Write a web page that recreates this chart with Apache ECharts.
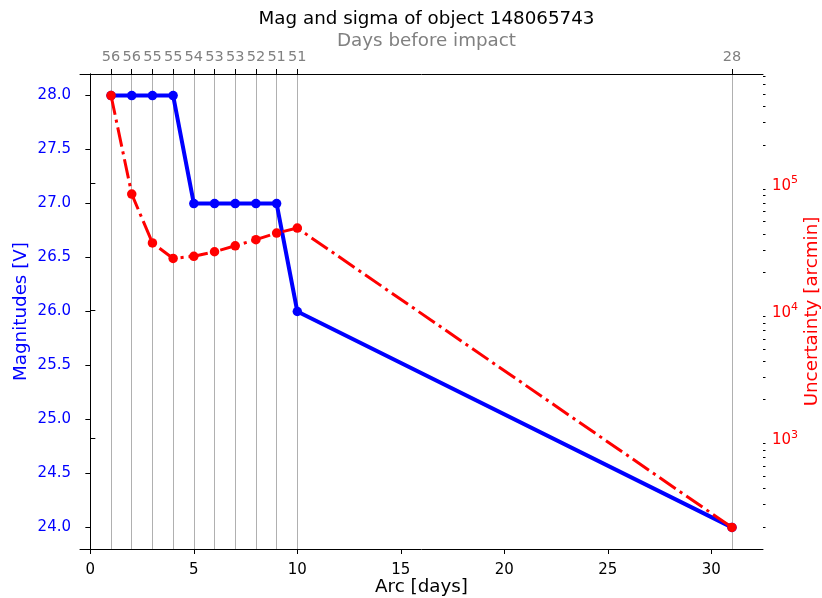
<!DOCTYPE html>
<html>
<head>
<meta charset="utf-8">
<script src="https://cdn.jsdelivr.net/npm/echarts@6/dist/echarts.min.js"></script>
<style>html,body{margin:0;padding:0;background:#fff}#c{width:822px;height:598px}</style>
</head>
<body>
<div id="c"></div>
<script>
// Data
const arcDays = [1, 2, 3, 4, 5, 6, 7, 8, 9, 10, 31];
const magnitudes = [28, 28, 28, 28, 27, 27, 27, 27, 27, 26, 24];
const uncertainty = [489000, 82300, 34000, 25700, 26700, 29000, 32300, 36100, 40700, 44500, 198];
const daysBeforeImpact = [56, 56, 55, 55, 54, 53, 53, 52, 51, 51, 28];
const bottomTicks = [0, 5, 10, 15, 20, 25, 30];
const leftTicks = [24.0, 24.5, 25.0, 25.5, 26.0, 26.5, 27.0, 27.5, 28.0];
const rightTicks = [1e3, 1e4, 1e5];
const rightMinorTicks = [200,300,400,500,600,700,800,900,2000,3000,4000,5000,6000,7000,8000,9000,
  20000,30000,40000,50000,60000,70000,80000,90000,200000,300000,400000,500000,600000,700000];

const FONT = 'DejaVu Sans';
const TICK_FS = 15, TOP_FS = 14.5, LABEL_FS = 18.3;
// matplotlib-like 5% margins
const xMin = -0.5, xMax = 32.5;
const yMin = 23.8, yMax = 28.2;
const lMin = Math.log10(Math.min(...uncertainty)), lMax = Math.log10(Math.max(...uncertainty));
const lr = lMax - lMin;
const uMin = Math.pow(10, lMin - 0.05 * lr), uMax = Math.pow(10, lMax + 0.05 * lr);

const magData = arcDays.map((a, i) => [a, magnitudes[i]]);
const uncData = arcDays.map((a, i) => [a, uncertainty[i]]);

const chart = echarts.init(document.getElementById('c'), null, {renderer: 'canvas'});
chart.setOption({
  animation: false,
  backgroundColor: '#fff',
  title: [
    {text: 'Mag and sigma of object 148065743', left: 421.5, top: 5, textAlign: 'center',
     textStyle: {fontFamily: FONT, fontSize: LABEL_FS, fontWeight: 'normal', color: '#000'}},
    {text: 'Days before impact', left: 421.5, top: 27, textAlign: 'center',
     textStyle: {fontFamily: FONT, fontSize: LABEL_FS, fontWeight: 'normal', color: '#808080'}}
  ],
  grid: {left: 80, right: 59, top: 74, bottom: 49, containLabel: false, outerBoundsMode: 'none'},
  xAxis: [
    {type: 'value', position: 'bottom', min: xMin, max: xMax,
     name: 'Arc [days]', nameLocation: 'middle', nameGap: 29, nameMoveOverlap: false,
     nameTextStyle: {fontFamily: FONT, fontSize: LABEL_FS, color: '#000'},
     axisLine: {show: true, lineStyle: {color: '#000', width: 1}},
     axisTick: {show: true, length: 5, customValues: bottomTicks, lineStyle: {color: '#000'}},
     axisLabel: {customValues: bottomTicks, margin: 10, padding: [4, 0, 0, 0], fontFamily: FONT, fontSize: TICK_FS, color: '#000'},
     splitLine: {show: false}},
    {type: 'value', position: 'top', min: xMin, max: xMax,
     axisLine: {show: true, lineStyle: {color: '#000', width: 1}},
     axisTick: {show: true, length: 5, customValues: arcDays, lineStyle: {color: '#000'}},
     axisLabel: {customValues: arcDays, margin: 9, fontFamily: FONT, fontSize: TOP_FS, color: '#808080',
       hideOverlap: false,
       formatter: v => String(daysBeforeImpact[arcDays.indexOf(v)])},
     splitLine: {show: true, lineStyle: {color: '#b0b0b0', width: 1}}}
  ],
  yAxis: [
    {type: 'value', position: 'left', min: yMin, max: yMax,
     name: 'Magnitudes [V]', nameLocation: 'middle', nameGap: 50, nameRotate: 90, nameMoveOverlap: false,
     nameTextStyle: {fontFamily: FONT, fontSize: LABEL_FS, color: '#0000ff'},
     axisLine: {show: true, lineStyle: {color: '#000', width: 1}},
     axisTick: {show: true, length: 5, customValues: leftTicks, lineStyle: {color: '#000'}},
     axisLabel: {customValues: leftTicks, margin: 9, padding: [3, 0, 0, 0], fontFamily: FONT, fontSize: TICK_FS, color: '#0000ff',
       formatter: v => v.toFixed(1)},
     splitLine: {show: false}},
    {type: 'log', position: 'right', min: uMin, max: uMax, logBase: 10,
     name: 'Uncertainty [arcmin]', nameLocation: 'middle', nameGap: 40, nameRotate: 90, nameMoveOverlap: false,
     nameTextStyle: {fontFamily: FONT, fontSize: LABEL_FS, color: '#ff0000'},
     axisLine: {show: true, lineStyle: {color: '#000', width: 1}},
     axisTick: {show: true, length: 5, customValues: rightTicks, lineStyle: {color: '#000'}},
     axisLabel: {customValues: rightTicks, margin: 9, padding: [5, 0, 0, 0], fontFamily: FONT, color: '#ff0000',
       formatter: v => '{b|10}{s|' + Math.round(Math.log10(v)) + '}',
       rich: {b: {fontFamily: FONT, fontSize: TICK_FS, color: '#ff0000', lineHeight: 22},
              s: {fontFamily: FONT, fontSize: 11, color: '#ff0000', verticalAlign: 'top', lineHeight: 12}}},
     splitLine: {show: false}},
    {type: 'log', position: 'right', min: uMin, max: uMax, logBase: 10,
     axisLine: {show: false},
     axisTick: {show: true, length: 2.5, customValues: rightMinorTicks, lineStyle: {color: '#000'}},
     axisLabel: {show: false, customValues: rightMinorTicks},
     splitLine: {show: false}}
  ],
  series: [
    {type: 'line', name: 'Magnitudes', xAxisIndex: 0, yAxisIndex: 0, data: magData,
     symbol: 'circle', symbolSize: 9.5, z: 3,
     lineStyle: {color: '#0000ff', width: 4},
     itemStyle: {color: '#0000ff'}},
    {type: 'line', name: 'Uncertainty', xAxisIndex: 0, yAxisIndex: 1, data: uncData,
     symbol: 'circle', symbolSize: 9.5, z: 4,
     lineStyle: {color: '#ff0000', width: 3, type: [19.6, 4.9, 3.1, 4.9]},
     itemStyle: {color: '#ff0000'}}
  ]
});
</script>
</body>
</html>
